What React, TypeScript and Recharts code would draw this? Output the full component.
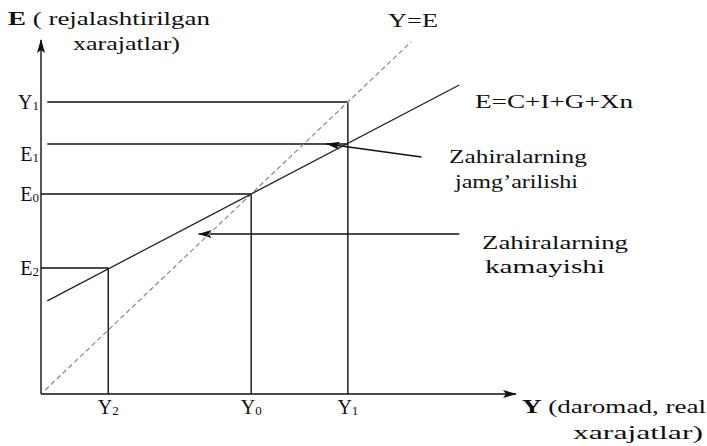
import { ComposedChart, Line, XAxis, YAxis, ReferenceLine } from "recharts";

const W = 707;
const H = 446;
const SERIF = "'Liberation Serif', 'Times New Roman', serif";
const INK = "#111";

// income (Y) levels on the horizontal axis
const incomeLevels = [32, 100, 146];
const incomeLabels = [["Y", "2"], ["Y", "0"], ["Y", "1"]];

// planned spending (E) levels on the vertical axis
const spendLevels = [63, 100, 125, 146];
const spendLabels = [["E", "2"], ["E", "0"], ["E", "1"], ["Y", "1"]];

// 45-degree line Y=E
const identityX = [2, 176];
// planned expenditure E = C + I + G + Xn
const plannedX = [3, 199];
const plannedE = [46.6, 154.5];

// arrow "Zahiralarning jamg'arilishi" (tail -> head)
const accumArrowX = [181, 136];
const accumArrowE = [118.5, 125];
// arrow "Zahiralarning kamayishi"
const depleteArrowX = [199, 75];
const depleteArrowE = [80, 80];

const identityData = identityX.map((x) => ({ x, e: x }));
const plannedData = plannedX.map((x, i) => ({ x, e: plannedE[i] }));

const [Y2, Y0, Y1] = incomeLevels;
const [E2, E0, E1, Y1level] = spendLevels;

const PLOT_BOTTOM = 394;

function BottomTick(props: any) {
  const i = incomeLevels.indexOf(props.payload.value);
  if (i < 0) return null;
  const [main, sub] = incomeLabels[i];
  return (
    <text x={props.x} y={PLOT_BOTTOM + 20} textAnchor="middle" fontFamily={SERIF} fontSize={20} fill={INK}>
      <tspan>{main}</tspan>
      <tspan fontSize={13} dy={1}>{sub}</tspan>
    </text>
  );
}

function LeftTick(props: any) {
  const i = spendLevels.indexOf(props.payload.value);
  if (i < 0) return null;
  const [main, sub] = spendLabels[i];
  // the scan prints E1 a little below its guide line
  const shift = main === "E" && sub === "1" ? 10 : 0;
  return (
    <text x={39} y={props.y + 7 + shift} textAnchor="end" fontFamily={SERIF} fontSize={20} fill={INK}>
      <tspan>{main}</tspan>
      <tspan fontSize={13} dy={1}>{sub}</tspan>
    </text>
  );
}

function Seg({ x, y, dash, arrow }: { x: number[]; y: number[]; dash?: string; arrow?: boolean }) {
  return (
    <ReferenceLine
      segment={[
        { x: x[0], y: y[0] },
        { x: x[1], y: y[1] },
      ]}
      stroke={INK}
      strokeWidth={1.4}
      strokeDasharray={dash}
      ifOverflow="visible"
      markerEnd={arrow ? "url(#arrowHead)" : undefined}
    />
  );
}

type Note = { text: string; x: number; y: number; w: number; size?: number; bold?: string };

const notes: Note[] = [
  { text: " ( rejalashtirilgan", bold: "E", x: 8, y: 25, w: 202, size: 19 },
  { text: "xarajatlar)", x: 73, y: 50, w: 107, size: 19 },
  { text: "Y=E", x: 388, y: 27, w: 50, size: 19 },
  { text: "E=C+I+G+Xn", x: 475, y: 108, w: 158, size: 19 },
  { text: "Zahiralarning", x: 449, y: 163, w: 138 },
  { text: "jamg’arilishi", x: 455, y: 188, w: 123 },
  { text: "Zahiralarning", x: 482, y: 249, w: 146 },
  { text: "kamayishi", x: 485, y: 273, w: 120 },
  { text: " (daromad, real", bold: "Y", x: 522, y: 413, w: 184, size: 19 },
  { text: "xarajatlar)", x: 573, y: 439, w: 130 },
];

export default function App() {
  return (
    <div style={{ position: "absolute", left: 0, top: 0, width: W, height: H, background: "#fff" }}>
      <ComposedChart width={W} height={H} margin={{ top: 34, right: 191, bottom: 0, left: 0 }}>
        <defs>
          <marker
            id="arrowHead"
            markerWidth={14}
            markerHeight={8}
            refX={13}
            refY={4}
            orient="auto"
            markerUnits="userSpaceOnUse"
          >
            <path d="M0,0 L14,4 L0,8 L3,4 z" fill={INK} />
          </marker>
        </defs>
        <XAxis
          type="number"
          dataKey="x"
          domain={[0, 226]}
          ticks={incomeLevels}
          height={52}
          axisLine={false}
          tickLine={false}
          tick={<BottomTick />}
          allowDataOverflow
        />
        <YAxis
          type="number"
          domain={[0, 180]}
          ticks={spendLevels}
          width={41}
          axisLine={false}
          tickLine={false}
          tick={<LeftTick />}
          allowDataOverflow
        />

        {/* axes with arrow heads */}
        <Seg x={[0, 226]} y={[0, 0]} arrow />
        <Seg x={[0, 0]} y={[0, 177]} arrow />

        {/* guide lines */}
        <Seg x={[3, Y1]} y={[Y1level, Y1level]} />
        <Seg x={[3, Y1]} y={[E1, E1]} />
        <Seg x={[0, Y0]} y={[E0, E0]} />
        <Seg x={[0, Y2]} y={[E2, E2]} />
        <Seg x={[Y1, Y1]} y={[0, Y1level]} />
        <Seg x={[Y0, Y0]} y={[0, E0]} />
        <Seg x={[Y2, Y2]} y={[0, E2]} />

        {/* annotation arrows */}
        <Seg x={accumArrowX} y={accumArrowE} arrow />
        <Seg x={depleteArrowX} y={depleteArrowE} arrow />

        <Line
          data={identityData}
          dataKey="e"
          stroke="#8a8a8a"
          strokeWidth={1.2}
          strokeDasharray="5 3"
          dot={false}
          isAnimationActive={false}
        />
        <Line
          data={plannedData}
          dataKey="e"
          stroke="#222"
          strokeWidth={1.3}
          dot={false}
          isAnimationActive={false}
        />
      </ComposedChart>

      <svg width={W} height={H} style={{ position: "absolute", left: 0, top: 0, pointerEvents: "none" }}>
        {notes.map((n, i) => (
          <text
            key={i}
            x={n.x}
            y={n.y}
            fontFamily={SERIF}
            fontSize={n.size ?? 18}
            fill={INK}
            textLength={n.w}
            lengthAdjust="spacingAndGlyphs"
          >
            {n.bold ? <tspan fontWeight="bold">{n.bold}</tspan> : null}
            <tspan>{n.text}</tspan>
          </text>
        ))}
      </svg>
    </div>
  );
}
